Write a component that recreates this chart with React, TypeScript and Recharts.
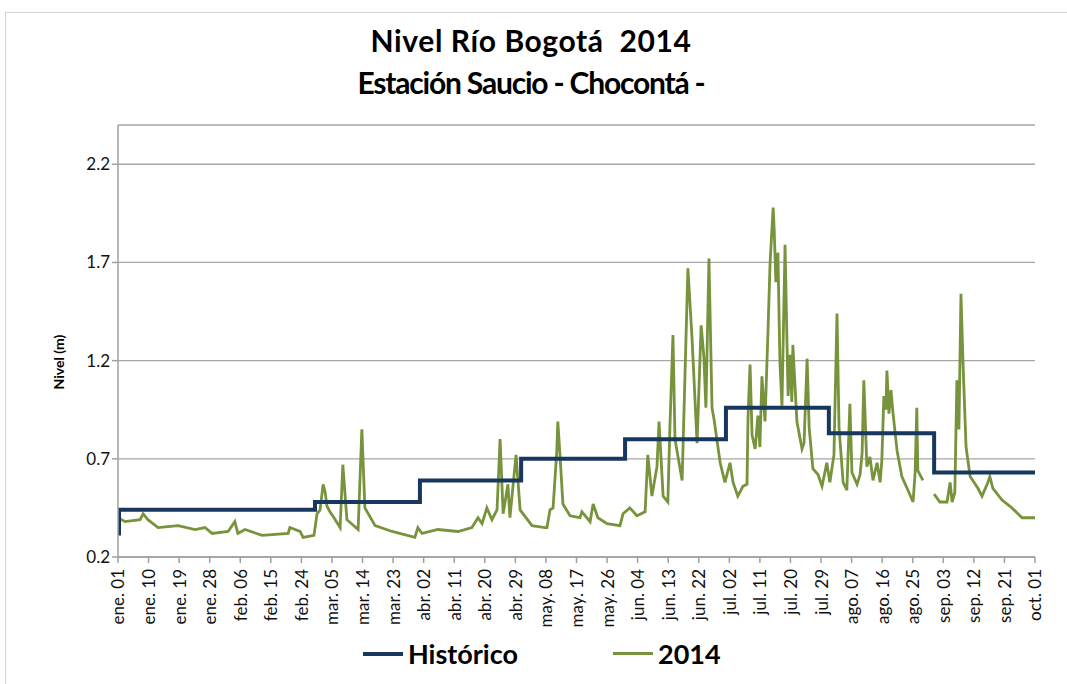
import React from "react"
import { LineChart, Line, XAxis, YAxis, CartesianGrid } from "recharts"

// días desde el 1 de enero (eje X numérico)
const tickDias = [0, 9, 18, 27, 36, 45, 54, 63, 72, 81, 90, 99, 108, 117, 126, 135, 144, 153, 162, 171, 180, 189, 198, 207, 216, 225, 234, 243, 252, 261, 270]
const tickLabels = [
  "ene. 01", "ene. 10", "ene. 19", "ene. 28", "feb. 06", "feb. 15", "feb. 24",
  "mar. 05", "mar. 14", "mar. 23", "abr. 02", "abr. 11", "abr. 20", "abr. 29",
  "may. 08", "may. 17", "may. 26", "jun. 04", "jun. 13", "jun. 22", "jul. 02",
  "jul. 11", "jul. 20", "jul. 29", "ago. 07", "ago. 16", "ago. 25", "sep. 03",
  "sep. 12", "sep. 21", "oct. 01",
]
const yTicks = [0.2, 0.7, 1.2, 1.7, 2.2]

// Histórico (escalones mensuales)
const histDias = [0, 0.3, 58, 88.9, 118.7, 149.3, 179, 209.3, 240.3, 270]
const histNivel = [0.32, 0.44, 0.48, 0.59, 0.7, 0.8, 0.96, 0.83, 0.63, 0.63]

// 2014
const dias2014 = [
  0, 2.1, 6.5, 7.4, 8.8, 11.8, 17.7, 22.7, 25.6, 27.7, 32.4, 34.4, 35.3, 37.4, 42.4,
  50.1, 50.6, 53.6, 54.5, 57.7, 58.6, 59.5, 60.4, 61, 61.5, 62.4, 63.6, 65.4, 66.2,
  67.4, 70.7, 71.8, 72.7, 75.7, 80.7, 87.4, 88.3, 89.5, 94.2, 100.1, 104.2, 106,
  107.2, 108.6, 110.1, 111.6, 112.5, 113.4, 114.8, 115.4, 117.2, 118.4, 121.9,
  125.7, 126.3, 127.2, 128.1, 129.2, 129.5, 130.1, 131, 133.1, 136, 136.6, 139,
  139.9, 141.3, 144, 147.8, 148.7, 150.7, 152.8, 155.2, 156, 157.2, 158.7, 159.3,
  160.5, 161.9, 162.5, 163.4, 164, 166.1, 166.9, 167.8, 169, 170.5, 171.7, 172.5,
  173.1, 174, 174.9, 175.5, 177.3, 178.7, 180.2, 181.1, 182.5, 184, 185.2, 185.5,
  186.1, 186.7, 187.6, 188.4, 189, 189.6, 190.5, 191.4, 192, 192.9, 193.2, 193.7,
  194.3, 194.9, 195.5, 196.4, 197.3, 197.9, 198.4, 198.7, 199.9, 201.4, 202, 202.9,
  203.5, 204.6, 206.1, 207.3, 208.7, 209.6, 210.8, 211.7, 212.3, 213.5, 214.6,
  215.5, 216.1, 217.6, 218.5, 219.1, 219.6, 220.5, 221.4, 222.3, 223.5, 224.4,
  224.9, 225.5, 226.1, 226.4, 227, 227.6, 228.2, 229.4, 230.8, 232.6, 234.1, 234.7,
  235.2, 235.5, 236.7, 237, 238.5, 240.3, 242, 244.1, 245, 245.6, 246.4, 247,
  247.6, 248.2, 248.8, 249.7, 250.9, 253.2, 254.4, 255.9, 256.7, 257.6, 260.3,
  263.2, 266.2, 270,
]
const nivel2014: (number | null)[] = [
  0.4, 0.38, 0.39, 0.42, 0.39, 0.35, 0.36, 0.34, 0.35, 0.32, 0.33, 0.38, 0.32, 0.34, 0.31,
  0.32, 0.35, 0.33, 0.3, 0.31, 0.42, 0.44, 0.57, 0.53, 0.46, 0.43, 0.4, 0.35, 0.67,
  0.39, 0.34, 0.85, 0.45, 0.36, 0.33, 0.3, 0.35, 0.32, 0.34, 0.33, 0.35, 0.4,
  0.37, 0.45, 0.39, 0.44, 0.8, 0.42, 0.57, 0.4, 0.72, 0.44, 0.36,
  0.35, 0.35, 0.44, 0.45, 0.74, 0.89, 0.73, 0.47, 0.41, 0.4, 0.43, 0.38,
  0.47, 0.4, 0.37, 0.36, 0.42, 0.45, 0.41, 0.43, 0.72, 0.51, 0.66, 0.89,
  0.51, 0.48, 0.86, 1.33, 0.8, 0.59, 1.1, 1.67, 1.32, 0.78, 1.38, 1.22,
  0.96, 1.72, 0.96, 0.9, 0.68, 0.58, 0.68, 0.58, 0.51, 0.56, 0.57, 0.91,
  1.18, 0.82, 0.75, 0.92, 0.76, 1.12, 0.89, 1.36, 1.7, 1.98, 1.87, 1.6,
  1.75, 1.19, 0.97, 1.79, 1.02, 1.23, 0.99, 1.28, 0.89, 0.75, 0.78, 1.21,
  0.86, 0.65, 0.62, 0.56, 0.68, 0.58, 0.72, 1.44, 0.86, 0.58, 0.54,
  0.98, 0.63, 0.57, 0.62, 0.73, 1.1, 0.66, 0.71, 0.59, 0.68, 0.58,
  0.69, 1.02, 0.95, 1.15, 0.93, 1.05, 0.93, 0.74, 0.61, 0.54, 0.48, 0.63,
  0.96, 0.64, 0.6, 0.59, null, 0.52, 0.48, 0.48, 0.58, 0.48, 0.53, 1.1,
  0.85, 1.54, 1.19, 0.76, 0.61, 0.55, 0.51, 0.57, 0.61, 0.55, 0.49,
  0.45, 0.4, 0.4,
]

const historico = histDias.map((d, i) => ({ dia: d, nivel: histNivel[i] }))
const serie2014 = dias2014.map((d, i) => ({ dia: d, nivel: nivel2014[i] }))

const AZUL = "#17375E"
const VERDE = "#77933C"
const FUENTE = "Lato, 'Liberation Sans', sans-serif"

function DiaTick({ x, y, payload }: any) {
  const idx = tickDias.indexOf(payload.value)
  return (
    <text
      transform={`translate(${x},${y + 4}) rotate(-90)`}
      textAnchor="end"
      dy="0.38em"
      fontSize={17}
      fontFamily={FUENTE}
      fill="#111"
    >
      {tickLabels[idx]}
    </text>
  )
}

export default function App() {
  return (
    <div style={{ position: "absolute", left: 0, top: 0, width: 1067, height: 684, background: "#fff", fontFamily: FUENTE }}>
      <div style={{ position: "absolute", left: 5, top: 12, width: 1070, height: 680, border: "1px solid #d4d4d4", boxSizing: "border-box" }} />
      <div style={{ position: "absolute", left: 0, top: 19, width: 1062, textAlign: "center", fontWeight: 700, fontSize: 30, lineHeight: "42px", color: "#000", whiteSpace: "pre" }}>
        <div style={{ letterSpacing: 0.6 }}>Nivel Río Bogotá  2014</div>
        <div style={{ letterSpacing: -1.2 }}>Estación Saucio - Chocontá -</div>
      </div>
      <div style={{ position: "absolute", left: 58, top: 362, transform: "translate(-50%,-50%) rotate(-90deg)", fontWeight: 700, fontSize: 14, whiteSpace: "nowrap" }}>
        Nivel (m)
      </div>
      <LineChart width={1067} height={684} margin={{ top: 125, right: 32, bottom: 57, left: 60 }} style={{ position: "absolute", left: 0, top: 0 }}>
        <CartesianGrid vertical={false} stroke="#a6a6a6" strokeWidth={1.3} />
        <XAxis
          type="number"
          dataKey="dia"
          domain={[0, 270]}
          ticks={tickDias}
          interval={0}
          height={70}
          tick={<DiaTick />}
          tickSize={6}
          axisLine={{ stroke: "#a0a0a0", strokeWidth: 1.5 }}
          tickLine={{ stroke: "#a0a0a0", strokeWidth: 1.5 }}
          allowDataOverflow
        />
        <YAxis
          type="number"
          domain={[0.2, 2.4]}
          ticks={yTicks}
          interval={0}
          width={58}
          tickSize={6}
          tickFormatter={(v: number) => v.toFixed(1)}
          tick={{ fontSize: 17, fill: "#111", fontFamily: FUENTE }}
          axisLine={{ stroke: "#a0a0a0", strokeWidth: 1.5 }}
          tickLine={{ stroke: "#a0a0a0", strokeWidth: 1.5 }}
          allowDataOverflow
        />
        <Line data={serie2014} dataKey="nivel" type="linear" stroke={VERDE} strokeWidth={2.8} dot={false} isAnimationActive={false} name="2014" />
        <Line data={historico} dataKey="nivel" type="stepAfter" stroke={AZUL} strokeWidth={4} dot={false} isAnimationActive={false} name="Histórico" />
      </LineChart>
      <div style={{ position: "absolute", left: 363, top: 637, display: "flex", alignItems: "center", fontWeight: 700, fontSize: 27, color: "#000" }}>
        <span style={{ display: "inline-block", width: 40, height: 4, background: AZUL, marginRight: 5 }} />
        <span>Histórico</span>
      </div>
      <div style={{ position: "absolute", left: 613, top: 637, display: "flex", alignItems: "center", fontWeight: 700, fontSize: 27, color: "#000" }}>
        <span style={{ display: "inline-block", width: 40, height: 3, background: VERDE, marginRight: 5 }} />
        <span>2014</span>
      </div>
    </div>
  )
}
